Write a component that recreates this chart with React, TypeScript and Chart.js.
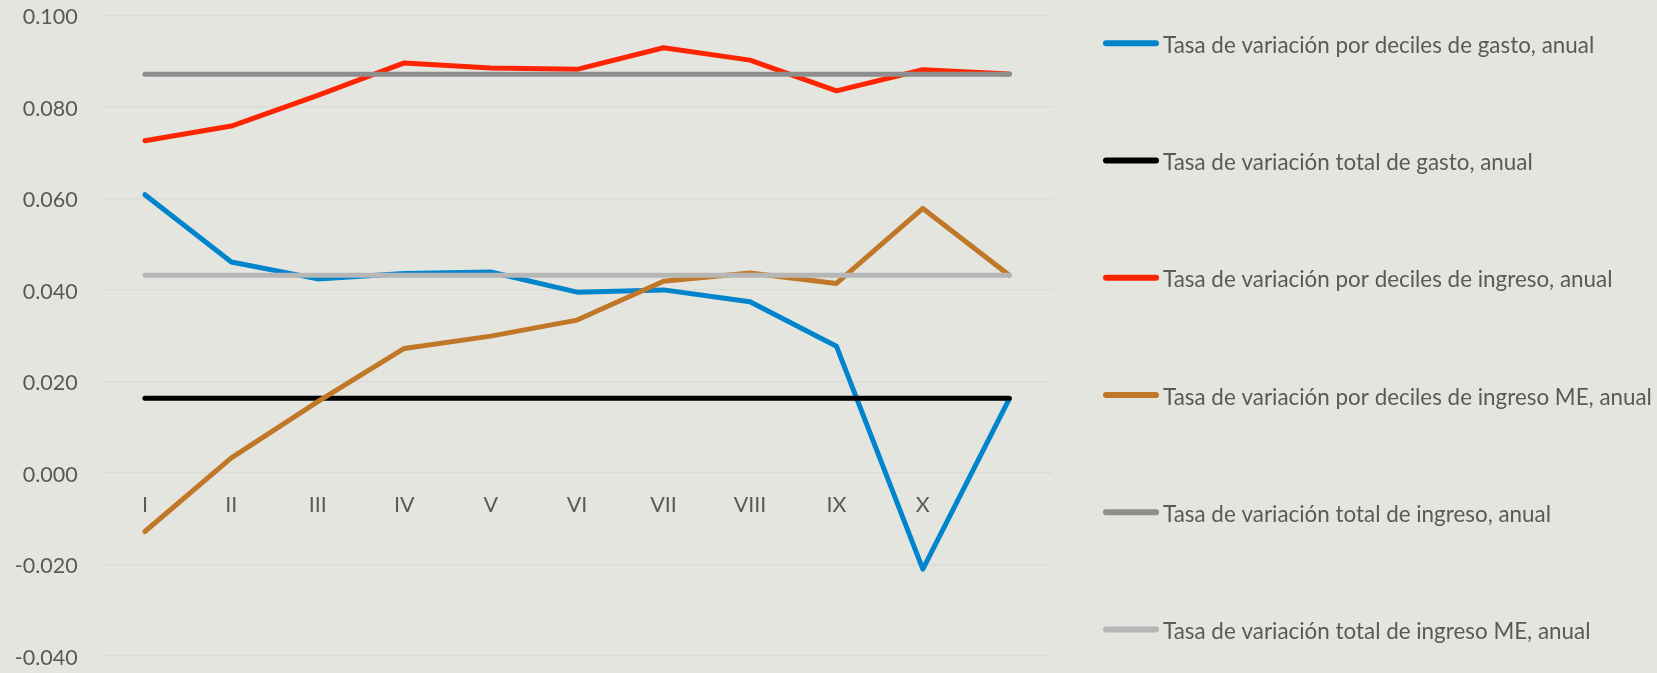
import React, { useEffect, useRef } from "react";
import { Chart, registerables } from "chart.js";

Chart.register(...registerables);

const categories = ["I", "II", "III", "IV", "V", "VI", "VII", "VIII", "IX", "X", ""];

const gastoDeciles = [0.0608, 0.0461, 0.0424, 0.0436, 0.0439, 0.0395, 0.04, 0.0374, 0.0277, -0.021, 0.0162];
const gastoTotal = [0.0163, 0.0163, 0.0163, 0.0163, 0.0163, 0.0163, 0.0163, 0.0163, 0.0163, 0.0163, 0.0163];
const ingresoDeciles = [0.0726, 0.0758, 0.0825, 0.0896, 0.0885, 0.0882, 0.0929, 0.0902, 0.0835, 0.0881, 0.0872];
const ingresoMEDeciles = [-0.0128, 0.0033, 0.0156, 0.0272, 0.0299, 0.0334, 0.0419, 0.0437, 0.0414, 0.0578, 0.0432];
const ingresoTotal = [0.0871, 0.0871, 0.0871, 0.0871, 0.0871, 0.0871, 0.0871, 0.0871, 0.0871, 0.0871, 0.0871];
const ingresoMETotal = [0.0432, 0.0432, 0.0432, 0.0432, 0.0432, 0.0432, 0.0432, 0.0432, 0.0432, 0.0432, 0.0432];

const seriesLabels = [
  "Tasa de variación por deciles de gasto, anual",
  "Tasa de variación total de gasto, anual",
  "Tasa de variación por deciles de ingreso, anual",
  "Tasa de variación por deciles de ingreso ME, anual",
  "Tasa de variación total de ingreso, anual",
  "Tasa de variación total de ingreso ME, anual",
];
const seriesData = [gastoDeciles, gastoTotal, ingresoDeciles, ingresoMEDeciles, ingresoTotal, ingresoMETotal];
const seriesColors = ["#0084CC", "#000000", "#FF2400", "#C07828", "#8E8E8E", "#B6B6B6"];

const yTicks = [-0.04, -0.02, 0, 0.02, 0.04, 0.06, 0.08, 0.1];

const FONT = "Lato, 'Open Sans', sans-serif";
const TEXT_COLOR = "#595959";
const BG = "#E5E5E0";

const bgPlugin = {
  id: "bgFill",
  beforeDraw(chart: any) {
    const ctx = chart.ctx;
    ctx.save();
    ctx.fillStyle = BG;
    ctx.fillRect(0, 0, chart.width, chart.height);
    ctx.restore();
  },
};

const xLabelPlugin = {
  id: "xLabels",
  afterDatasetsDraw(chart: any) {
    const ctx = chart.ctx;
    const xs = chart.scales.x;
    const ys = chart.scales.y;
    const y0 = ys.getPixelForValue(0) + 32;
    ctx.save();
    ctx.font = `21.5px ${FONT}`;
    ctx.fillStyle = TEXT_COLOR;
    ctx.textAlign = "center";
    ctx.textBaseline = "middle";
    categories.forEach((c, i) => {
      if (!c) return;
      ctx.fillText(c, xs.getPixelForValue(i), y0);
    });
    ctx.restore();
  },
};

const legendPlugin = {
  id: "sideLegend",
  afterDraw(chart: any) {
    const ctx = chart.ctx;
    const x0 = 1103;
    const x1 = 1159;
    const top = 43.3;
    const step = 117.25;
    ctx.save();
    ctx.font = `22.4px ${FONT}`;
    ctx.textAlign = "left";
    ctx.textBaseline = "alphabetic";
    chart.data.datasets.forEach((ds: any, i: number) => {
      const y = top + step * i;
      ctx.strokeStyle = ds.borderColor;
      ctx.lineWidth = 6;
      ctx.lineCap = "round";
      ctx.beginPath();
      ctx.moveTo(x0 + 3, y);
      ctx.lineTo(x1 - 3, y);
      ctx.stroke();
      ctx.fillStyle = TEXT_COLOR;
      ctx.fillText(ds.label, x1 + 4, y + 9.5);
    });
    ctx.restore();
  },
};

export default function App() {
  const canvasRef = useRef<HTMLCanvasElement | null>(null);

  useEffect(() => {
    if (!canvasRef.current) return;
    const chart = new Chart(canvasRef.current, {
      type: "line",
      data: {
        labels: categories,
        datasets: seriesLabels.map((label, i) => ({
          label,
          data: seriesData[i],
          borderColor: seriesColors[i],
          backgroundColor: seriesColors[i],
          borderWidth: 5,
          pointRadius: 0,
          borderCapStyle: "round" as const,
          borderJoinStyle: "round" as const,
          tension: 0,
          fill: false,
          order: seriesLabels.length - i,
        })),
      },
      options: {
        animation: false,
        responsive: false,
        maintainAspectRatio: false,
        layout: { padding: { left: 0, top: 15.3, right: 604.5, bottom: 17 }, autoPadding: false },
        plugins: {
          legend: { display: false },
          tooltip: { enabled: false },
        },
        scales: {
          x: {
            type: "category",
            display: false,
            offset: true,
          },
          y: {
            min: -0.04,
            max: 0.1,
            afterFit(scale: any) {
              scale.width = 101.7;
            },
            afterBuildTicks(scale: any) {
              scale.ticks = yTicks.map((v) => ({ value: v }));
            },
            border: { display: false },
            grid: {
              color: "#DCDCD7",
              lineWidth: 1.5,
              drawTicks: true,
              tickLength: 24,
              tickColor: "rgba(0,0,0,0)",
            },
            ticks: {
              padding: 0,
              labelOffset: 2,
              color: TEXT_COLOR,
              font: { family: FONT, size: 21.5 },
              callback: (v: any) => Number(v).toFixed(3),
            },
          },
        },
      },
      plugins: [bgPlugin, xLabelPlugin, legendPlugin],
    });
    return () => chart.destroy();
  }, []);

  return (
    <div style={{ position: "fixed", left: 0, top: 0, width: 1657, height: 673, background: BG }}>
      <canvas ref={canvasRef} width={1657} height={673} style={{ display: "block", width: 1657, height: 673 }} />
    </div>
  );
}
